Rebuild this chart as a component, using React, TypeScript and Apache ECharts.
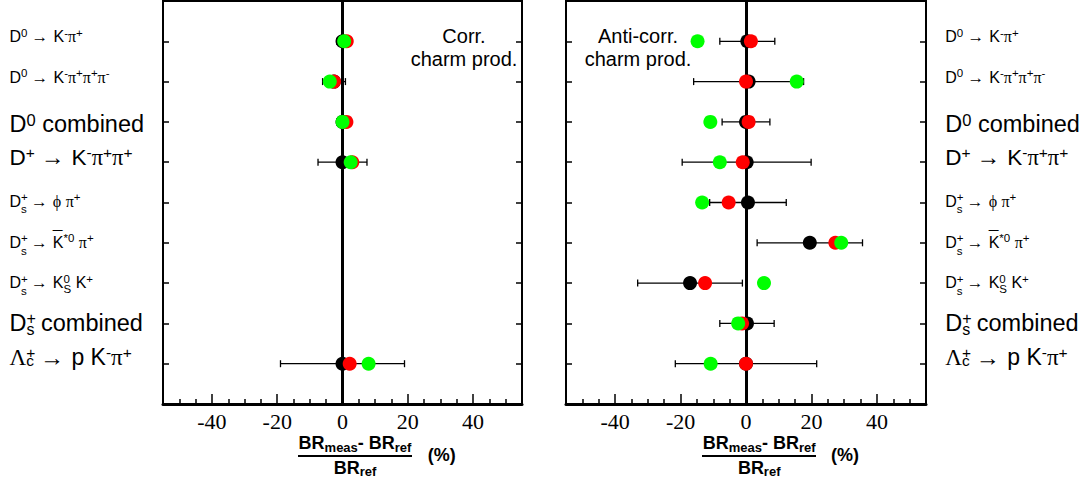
import React, { useEffect, useRef } from 'react';
import * as echarts from 'echarts';

const SANS = 'Liberation Sans, Arial, Helvetica, sans-serif';
const SERIF = 'Liberation Serif';

// ---------- data ----------
const rowIndex = [1, 2, 3, 4, 5, 6, 7, 8, 9];

const rowLabelTokens: [string, string][][] = [
  [['m', 'D'], ['u', '0'], ['a', '→'], ['m', 'K'], ['u', '-'], ['g', 'π'], ['u', '+']],
  [['m', 'D'], ['u', '0'], ['a', '→'], ['m', 'K'], ['u', '-'], ['g', 'π'], ['u', '+'], ['g', 'π'], ['u', '+'], ['g', 'π'], ['u', '-']],
  [['m', 'D'], ['u', '0'], ['m', ' combined']],
  [['m', 'D'], ['u', '+'], ['a', '→'], ['m', 'K'], ['u', '-'], ['g', 'π'], ['u', '+'], ['g', 'π'], ['u', '+']],
  [['m', 'D'], ['z', '+'], ['d', 's'], ['a', '→'], ['g', 'ϕ'], ['m', ' '], ['g', 'π'], ['u', '+']],
  [['m', 'D'], ['z', '+'], ['d', 's'], ['a', '→'], ['bar', '¯'], ['m', 'K'], ['u', '*0'], ['m', ' '], ['g', 'π'], ['u', '+']],
  [['m', 'D'], ['z', '+'], ['d', 's'], ['a', '→'], ['m', 'K'], ['z', '0'], ['dc', 'S'], ['m', ' K'], ['u', '+']],
  [['m', 'D'], ['z', '+'], ['d', 's'], ['m', ' combined']],
  [['g', 'Λ'], ['z', '+'], ['d', 'c'], ['a', '→'], ['m', 'p K'], ['u', '-'], ['g', 'π'], ['u', '+']],
];

const corrBlack = [0, -2.6, 0, 0, null, null, null, null, 0];
const corrErr = [1.8, 3.5, 1.8, 7.5, null, null, null, null, 19];
const corrRed = [1.3, -2.6, 1.2, 3.0, null, null, null, null, 2.2];
const corrGreen = [0.5, -3.9, 0, 2.5, null, null, null, null, 8.0];

const antiBlack = [0.4, 0.8, 0, 0.2, 0.6, 19.5, -17.1, 0.3, 0];
const antiErr = [8.4, 16.8, 7.3, 19.7, 11.7, 16.1, 16.0, 8.3, 21.6];
const antiRed = [1.5, 0, 0.8, -1.0, -5.3, 27.3, -12.5, -1.2, 0];
const antiGreen = [-14.8, 15.5, -10.9, -8.0, -13.4, 29.1, 5.5, -2.4, -10.8];

const xMajorTicks = [-40, -20, 0, 20, 40];
const xMinorTicks = [-50, -45, -35, -30, -25, -15, -10, -5, 5, 10, 15, 25, 30, 35, 45, 50];

const rowStyle = [
  { fs: 16, sf: 11.5, m: -4.8, u: -8.2, d: 6, dc: 5, bar: -4 },
  { fs: 16, sf: 11.5, m: -4.6, u: -8.2, d: 6, dc: 5, bar: -4 },
  { fs: 23.5, sf: 16.5, m: 1.8, u: -1.8, d: 6, dc: 5, bar: -4 },
  { fs: 22.5, sf: 15.5, m: -5, u: -10, d: 6, dc: 5, bar: -4 },
  { fs: 16, sf: 11.5, m: -1.5, u: -5.3, d: 6.9, dc: 5, bar: -4.5 },
  { fs: 16, sf: 11.5, m: -0.1, u: -5, d: 7.8, dc: 5, bar: -4.5 },
  { fs: 16, sf: 11.5, m: -0.2, u: -4.5, d: 7.5, dc: 5.8, bar: -4.5 },
  { fs: 23.5, sf: 16, m: -0.8, u: -5, d: 6.5, dc: 5, bar: -4 },
  { fs: 23, sf: 15.5, m: -6.7, u: -11.5, d: -3, dc: 5, bar: -4 },
];

function tok(fs: number, off: number, family: string, extra: any = {}, padL = 0, padR = 0) {
  const pad = off >= 0 ? [2 * off, padR, 0, padL] : [0, padR, -2 * off, padL];
  return { fontSize: fs, fontFamily: family, color: '#000', verticalAlign: 'middle', padding: pad, ...extra };
}

const labelRich: any = {};
rowStyle.forEach((s, i) => {
  labelRich[`r${i}m`] = tok(s.fs, s.m, SANS);
  labelRich[`r${i}g`] = tok(s.fs, s.m, SERIF);
  labelRich[`r${i}a`] = tok(s.fs * 1.05, s.m, SANS, {}, s.fs * 0.26, s.fs * 0.32);
  labelRich[`r${i}u`] = tok(s.sf, s.u, SANS);
  labelRich[`r${i}z`] = tok(s.sf, s.u, SANS, { width: 0 });
  labelRich[`r${i}d`] = tok(s.sf, s.d, SANS);
  labelRich[`r${i}dc`] = tok(s.sf, s.dc, SANS);
  labelRich[`r${i}bar`] = tok(s.fs * 1.1, s.bar, SANS, { width: 0 });
});
const rowLabels = rowLabelTokens.map((toks, i) => toks.map(([k, t]) => `{r${i}${k}|${t}}`).join(''));
const labelFormatter = (v: number) => rowLabels[Math.round(v) - 1] ?? '';

const pts = (vals: (number | null)[]) =>
  rowIndex.map((r, i) => (vals[i] == null ? null : [vals[i], r])).filter((p) => p !== null);

const errData = (c: (number | null)[], e: (number | null)[]) =>
  rowIndex
    .map((r, i) => (c[i] == null ? null : [(c[i] as number) - (e[i] as number), (c[i] as number) + (e[i] as number), r]))
    .filter((p) => p !== null);

const xAxisMajor = (gi: number) => ({
  type: 'value', gridIndex: gi, position: 'bottom', min: -55, max: 55,
  axisLine: { show: true, onZero: false, lineStyle: { color: '#000', width: 3 } },
  axisTick: { show: true, inside: true, length: 10, customValues: xMajorTicks, lineStyle: { color: '#000', width: 1.5 } },
  axisLabel: { show: false },
  splitLine: { show: false },
});
const xAxisMinor = (gi: number) => ({
  type: 'value', gridIndex: gi, position: 'bottom', min: -55, max: 55,
  axisLine: { show: false, onZero: false },
  axisTick: { show: true, inside: true, length: 5, customValues: xMinorTicks, lineStyle: { color: '#000', width: 1.5 } },
  axisLabel: { show: false },
  splitLine: { show: false },
});
const yAxisDef = (gi: number, pos: string, labels: boolean, margin: number) => ({
  type: 'value', gridIndex: gi, position: pos, min: 0, max: 10, inverse: true,
  axisLine: { show: false, onZero: false },
  axisTick: { show: true, inside: true, length: 6, customValues: rowIndex, lineStyle: { color: '#000', width: 1.5 } },
  axisLabel: labels
    ? { show: true, customValues: rowIndex, formatter: labelFormatter, rich: labelRich, align: 'left', margin, color: '#000' }
    : { show: false },
  splitLine: { show: false },
});

// x tick labels placed through the x scale (serif, like the original)
const tickLabelSeries = (xi: number, yi: number) => ({
  type: 'custom', xAxisIndex: xi, yAxisIndex: yi, z: 6, silent: true, clip: false,
  data: xMajorTicks.map((v) => [v, 10]),
  encode: { x: 0, y: 1 },
  renderItem: (_p: any, api: any) => {
    const p = api.coord([api.value(0), api.value(1)]);
    return {
      type: 'text',
      x: p[0],
      y: p[1] + 6,
      style: {
        text: String(api.value(0)),
        fontFamily: SERIF, fontSize: 22, fill: '#000',
        align: 'center', verticalAlign: 'top',
      },
    };
  },
});

const errSeries = (xi: number, yi: number, c: any[], e: any[]) => ({
  type: 'custom', xAxisIndex: xi, yAxisIndex: yi, z: 2, silent: true,
  data: errData(c, e),
  encode: { x: [0, 1], y: 2 },
  renderItem: (_p: any, api: any) => {
    const a = api.coord([api.value(0), api.value(2)]);
    const b = api.coord([api.value(1), api.value(2)]);
    const h = 3.5;
    const st = { stroke: '#000', lineWidth: 1.3, fill: null };
    return {
      type: 'group',
      children: [
        { type: 'line', shape: { x1: a[0], y1: a[1], x2: b[0], y2: b[1] }, style: st },
        { type: 'line', shape: { x1: a[0], y1: a[1] - h, x2: a[0], y2: a[1] + h }, style: st },
        { type: 'line', shape: { x1: b[0], y1: b[1] - h, x2: b[0], y2: b[1] + h }, style: st },
      ],
    };
  },
});

const dotSeries = (xi: number, yi: number, vals: any[], color: string, z: number, zeroLine = false) => ({
  type: 'scatter', xAxisIndex: xi, yAxisIndex: yi, z, silent: true,
  symbol: 'circle', symbolSize: 14,
  itemStyle: { color, opacity: 1 },
  data: pts(vals),
  ...(zeroLine
    ? {
        markLine: {
          silent: true, z: 1, symbol: ['none', 'none'], label: { show: false },
          lineStyle: { color: '#000', width: 3, type: 'solid' },
          data: [{ xAxis: 0 }],
        },
      }
    : {}),
});

const fracRich = {
  b: { fontSize: 18, fontWeight: 'bold', fontFamily: SANS, fill: '#000', color: '#000', verticalAlign: 'middle' },
  s: { fontSize: 13, fontWeight: 'bold', fontFamily: SANS, fill: '#000', color: '#000', verticalAlign: 'middle', padding: [8, 0, 0, 0] },
};

const fraction = (cx: number, x1: number, x2: number, px: number) => [
  { type: 'text', x: cx, y: 443, style: { text: '{b|BR}{s|meas}{b|- BR}{s|ref}', align: 'center', verticalAlign: 'middle', rich: fracRich, fill: '#000' } },
  { type: 'line', shape: { x1, y1: 456, x2, y2: 456 }, style: { stroke: '#000', lineWidth: 2 } },
  { type: 'text', x: cx, y: 467.8, style: { text: '{b|BR}{s|ref}', align: 'center', verticalAlign: 'middle', rich: fracRich, fill: '#000' } },
  { type: 'text', x: px, y: 455.4, style: { text: '(%)', fontSize: 18, fontWeight: 'bold', fontFamily: SANS, fill: '#000', align: 'left', verticalAlign: 'middle' } },
];

export default function App() {
  const ref = useRef<HTMLDivElement>(null);
  useEffect(() => {
    if (!ref.current) return;
    const chart = echarts.init(ref.current, null, { renderer: 'svg' });
    chart.setOption({
      animation: false,
      backgroundColor: '#fff',
      grid: [
        { left: 163, top: 1, width: 359, height: 403, show: true, borderColor: '#000', borderWidth: 2, backgroundColor: 'transparent', outerBoundsMode: 'none' },
        { left: 566, top: 1, width: 360, height: 403, show: true, borderColor: '#000', borderWidth: 2, backgroundColor: 'transparent', outerBoundsMode: 'none' },
      ],
      xAxis: [xAxisMajor(0), xAxisMinor(0), xAxisMajor(1), xAxisMinor(1)],
      yAxis: [
        yAxisDef(0, 'left', true, 153.5),
        yAxisDef(0, 'right', false, 0),
        yAxisDef(1, 'left', false, 0),
        yAxisDef(1, 'right', true, 19.3),
      ],
      series: [
        errSeries(0, 0, corrBlack, corrErr),
        dotSeries(0, 0, corrBlack, '#000000', 3, true),
        dotSeries(0, 0, corrRed, '#ff0000', 4),
        dotSeries(0, 0, corrGreen, '#00ff00', 5),
        tickLabelSeries(0, 0),
        errSeries(2, 3, antiBlack, antiErr),
        dotSeries(2, 3, antiBlack, '#000000', 3, true),
        dotSeries(2, 3, antiRed, '#ff0000', 4),
        dotSeries(2, 3, antiGreen, '#00ff00', 5),
        tickLabelSeries(2, 3),
      ],
      graphic: [
        { type: 'text', x: 464, y: 24.5, style: { text: 'Corr.\ncharm prod.', fontSize: 20, fontFamily: SANS, fill: '#000', align: 'center', verticalAlign: 'top', lineHeight: 23 } },
        { type: 'text', x: 638, y: 24.5, style: { text: 'Anti-corr.\ncharm prod.', fontSize: 20, fontFamily: SANS, fill: '#000', align: 'center', verticalAlign: 'top', lineHeight: 23 } },
        ...fraction(355, 298, 412, 427.7),
        ...fraction(759.2, 702, 816, 831),
      ],
    });
    return () => chart.dispose();
  }, []);
  return <div ref={ref} style={{ position: 'fixed', left: 0, top: 0, width: 1090, height: 486 }} />;
}
